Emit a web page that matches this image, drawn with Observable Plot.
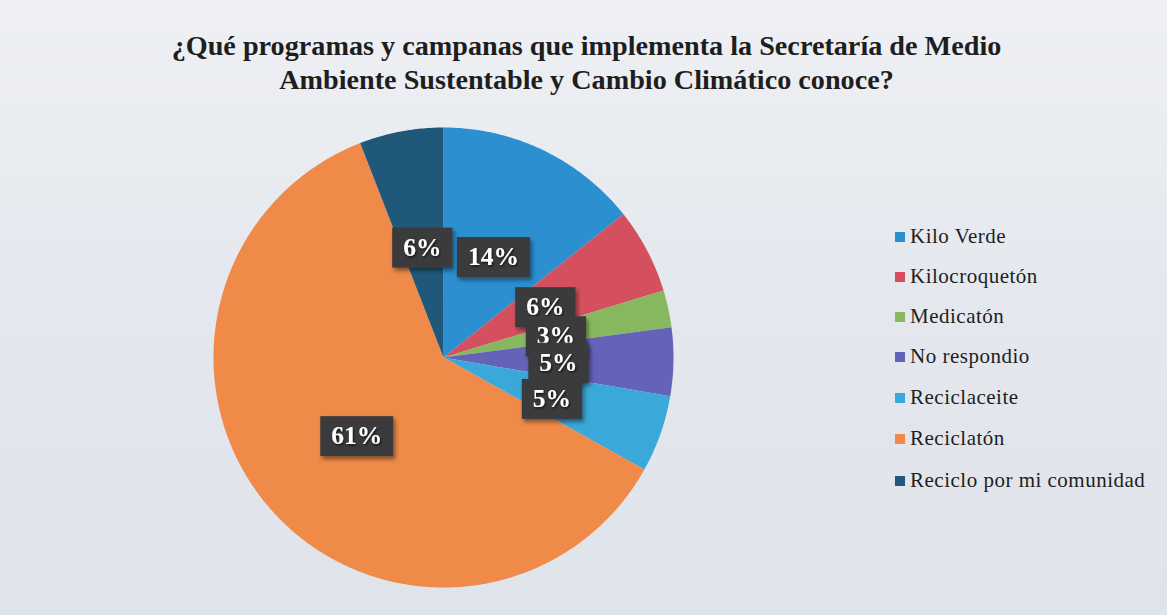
<!DOCTYPE html>
<html><head><meta charset="utf-8">
<script src="https://cdn.jsdelivr.net/npm/d3@7"></script>
<script src="https://cdn.jsdelivr.net/npm/@observablehq/plot@0.6"></script>
<style>
html,body{margin:0;padding:0;}
body{width:1167px;height:615px;overflow:hidden;position:relative;font-family:"Liberation Serif",serif;
background:linear-gradient(180deg,#eef0f4 0%,#e5e8ee 45%,#dfe3ea 100%);}
#title{padding-top:29px;height:67px;width:1167px;text-align:center;font-weight:bold;font-size:28.2px;line-height:34px;color:#1e1e1e;margin-left:3px;}
#legend{position:absolute;left:895px;top:0;}
.item{position:absolute;left:0;white-space:nowrap;font-size:21px;letter-spacing:0.5px;line-height:24px;color:#1e1e1e;}
.sw{display:inline-block;width:10px;height:10px;margin-right:5px;vertical-align:1px;}
svg{display:block;}
</style></head><body>
<div id="title">¿Qué programas y campanas que implementa la Secretaría de Medio<br>Ambiente Sustentable y Cambio Climático conoce?</div>
<div id="chart"></div>
<div id="legend"></div>
<script>
const categories = ["Kilo Verde","Kilocroquetón","Medicatón","No respondio","Reciclaceite","Reciclatón","Reciclo por mi comunidad"];
const values = [14.3, 6.0, 2.6, 4.8, 5.4, 61.0, 5.9];
const labels = ["14%","6%","3%","5%","5%","61%","6%"];
const colors = ["#2b8fd0","#d4505e","#87b860","#6563b8","#3aa8d8","#ef8a48","#1f5878"];

const arcs = d3.pie().sort(null).value(d => d)(values);
const pts = [];
const lab = [];
arcs.forEach((a, i) => {
  const n = Math.max(4, Math.ceil((a.endAngle - a.startAngle) / 0.01));
  pts.push({name: categories[i], x: 0, y: 0});
  for (let k = 0; k <= n; k++) {
    const t = a.startAngle + (a.endAngle - a.startAngle) * k / n;
    pts.push({name: categories[i], x: Math.sin(t), y: Math.cos(t)});
  }
  const m = (a.startAngle + a.endAngle) / 2;
  lab.push({name: categories[i], label: labels[i], x: 0.5 * Math.sin(m), y: 0.5 * Math.cos(m)});
});

const top0 = 96, H = 615 - top0;
const cx = 443, cy = 357, R = 230;
const plot = Plot.plot({
  width: 1167, height: H, margin: 0,
  x: {domain: [-1, 1], range: [cx - R, cx + R], axis: null},
  y: {domain: [-1, 1], range: [cy + R - top0, cy - R - top0], axis: null},
  color: {domain: categories, range: colors},
  style: {background: "transparent", overflow: "visible"},
  marks: [
    Plot.line(pts, {x: "x", y: "y", z: "name", fill: "name", stroke: "none"}),
    Plot.text(lab, {x: "x", y: "y", text: "label", fill: "white", fontSize: 25.5, fontWeight: "bold",
      fontFamily: "Liberation Serif", lineAnchor: "middle", dy: 3})
  ]
});
document.getElementById("chart").appendChild(plot);

const ns = "http://www.w3.org/2000/svg";
const defs = document.createElementNS(ns, "defs");
defs.innerHTML = '<filter id="sh" x="-30%" y="-30%" width="160%" height="170%"><feDropShadow dx="2" dy="3" stdDeviation="2" flood-color="#000" flood-opacity="0.45"/></filter>' +
  '<filter id="tsh" x="-20%" y="-20%" width="140%" height="150%"><feDropShadow dx="1" dy="1.5" stdDeviation="0.8" flood-color="#000" flood-opacity="0.7"/></filter>';
plot.insertBefore(defs, plot.firstChild);

const texts = plot.querySelectorAll('g[aria-label="text"] text');
texts.forEach(t => {
  const bb = t.getBBox();
  const r = document.createElementNS(ns, "rect");
  const px = 11, py = 6;
  r.setAttribute("x", bb.x - px);
  r.setAttribute("y", bb.y - py + 1);
  r.setAttribute("width", bb.width + 2 * px);
  r.setAttribute("height", bb.height + 2 * py - 1);
  r.setAttribute("fill", "#3a3a3c");
  r.setAttribute("filter", "url(#sh)");
  if (t.getAttribute("transform")) r.setAttribute("transform", t.getAttribute("transform"));
  t.parentNode.insertBefore(r, t);
  t.setAttribute("filter", "url(#tsh)");
});

const leg = document.getElementById("legend");
const rowY = [236, 276, 316, 356, 397, 438, 480];
categories.forEach((c, i) => {
  const d = document.createElement("div");
  d.className = "item";
  d.style.top = (rowY[i] - 12) + "px";
  d.innerHTML = '<span class="sw" style="background:' + colors[i] + '"></span>' + c;
  leg.appendChild(d);
});
</script>
</body></html>
